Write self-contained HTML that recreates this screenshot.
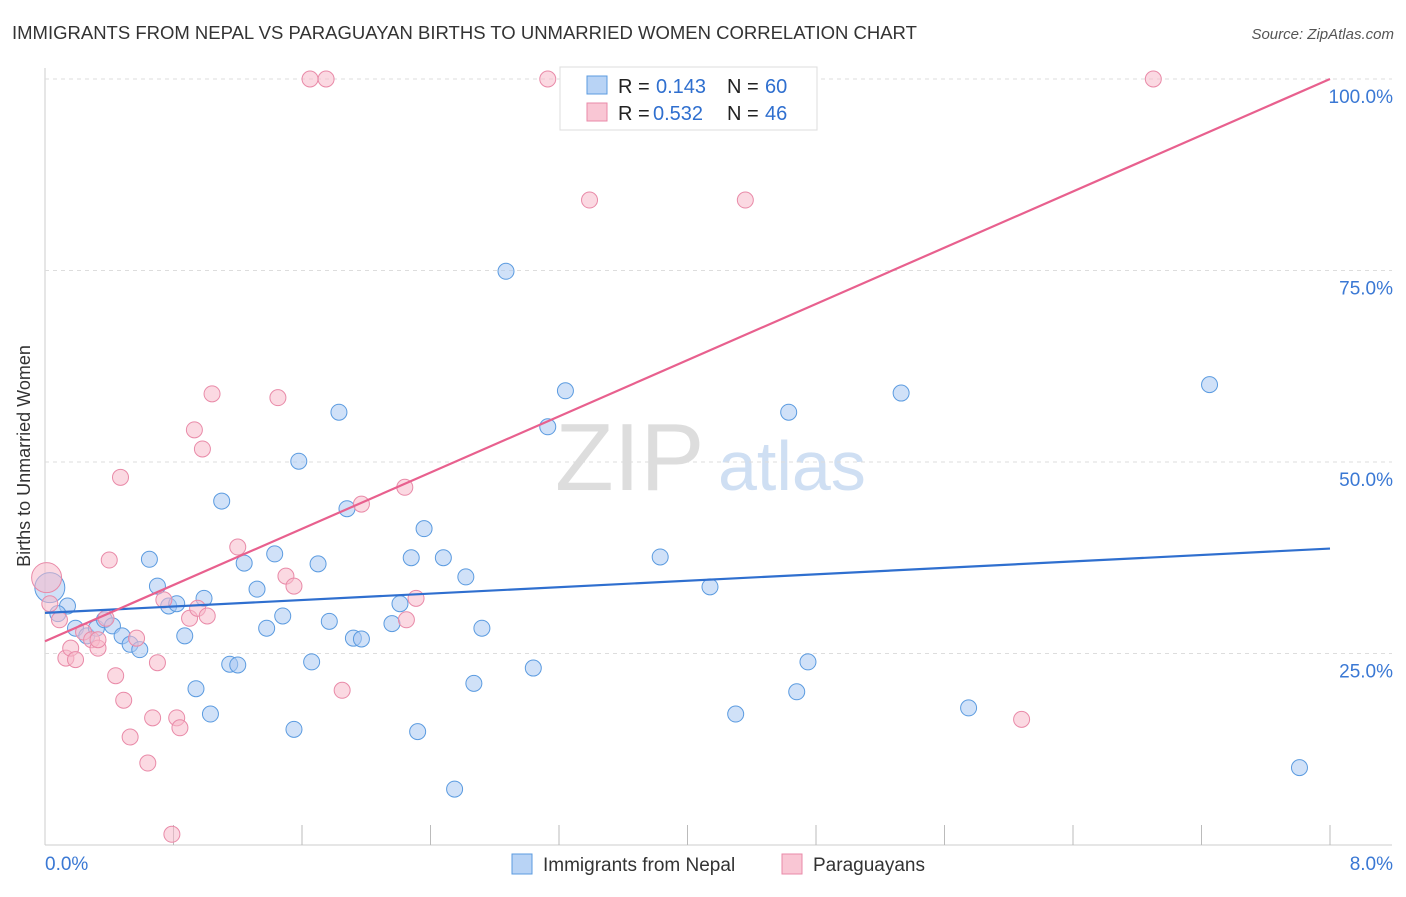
<!DOCTYPE html>
<html><head><meta charset="utf-8"><style>
body{margin:0;background:#fff;font-family:"Liberation Sans",sans-serif;}
svg text{font-family:"Liberation Sans",sans-serif;}
</style></head><body>
<svg id="c" width="1406" height="892" xmlns="http://www.w3.org/2000/svg">
<text x="12" y="39" font-size="18.5" fill="#333">IMMIGRANTS FROM NEPAL VS PARAGUAYAN BIRTHS TO UNMARRIED WOMEN CORRELATION CHART</text>
<text x="1394" y="39" font-size="15" fill="#555" text-anchor="end" font-style="italic">Source: ZipAtlas.com</text>
<text x="30" y="456" font-size="18" fill="#333" text-anchor="middle" transform="rotate(-90 30 456)">Births to Unmarried Women</text>
<text x="555" y="490" font-size="96" fill="#ddd" font-family="Liberation Serif">ZIP</text>
<text x="718" y="490" font-size="70" fill="#cfdff3">atlas</text>
<g id="grid"></g><g id="pts"></g><g id="lines"></g>
<rect x="560" y="67" width="257" height="63" fill="#fff" stroke="#ddd"/>
<rect x="587" y="76" width="20" height="18" fill="#b8d3f5" stroke="#5b9be0"/>
<rect x="587" y="103" width="20" height="18" fill="#f9c6d4" stroke="#e98aa8"/>
<g font-size="20" fill="#222">
<text x="618" y="93">R =</text><text x="656" y="93" fill="#2f6fcf">0.143</text><text x="727" y="93">N =</text><text x="765" y="93" fill="#2f6fcf">60</text></g>
<g font-size="20" fill="#222">
<text x="618" y="120">R =</text><text x="653" y="120" fill="#2f6fcf">0.532</text><text x="727" y="120">N =</text><text x="765" y="120" fill="#2f6fcf">46</text></g>
<rect x="512" y="854" width="20" height="20" fill="#b8d3f5" stroke="#5b9be0"/>
<text x="543" y="871" font-size="19" fill="#333">Immigrants from Nepal</text>
<rect x="782" y="854" width="20" height="20" fill="#f9c6d4" stroke="#e98aa8"/>
<text x="813" y="871" font-size="19" fill="#333">Paraguayans</text>
</svg>
<script>
const blueX=[0.03,0.14,0.08,0.19,0.26,0.32,0.37,0.42,0.48,0.53,0.59,0.65,0.70,0.77,0.82,0.87,0.94,0.99,1.03,1.10,1.15,1.20,1.24,1.32,1.38,1.43,1.48,1.55,1.58,1.66,1.70,1.77,1.83,1.88,1.92,1.97,2.16,2.21,2.28,2.32,2.36,2.48,2.55,2.62,2.67,2.72,2.87,3.04,3.13,3.24,3.83,4.14,4.30,4.63,4.68,4.75,5.33,5.75,7.25,7.81];
const blueY=[33.6,31.2,30.2,28.3,27.3,28.3,29.4,28.6,27.3,26.2,25.5,37.3,33.8,31.2,31.5,27.3,20.4,32.2,17.1,44.9,23.6,23.5,36.8,33.4,28.3,38.0,29.9,15.1,50.1,23.9,36.7,29.2,56.5,43.9,27.0,26.9,28.9,31.5,37.5,14.8,41.3,37.5,7.3,35.0,21.1,28.3,74.9,23.1,54.6,59.3,37.6,33.7,17.1,56.5,20.0,23.9,59.0,17.9,60.1,10.1];
const pinkX=[0.01,0.03,0.09,0.13,0.16,0.19,0.24,0.29,0.33,0.38,0.40,0.44,0.49,0.53,0.57,0.64,0.67,0.70,0.74,0.79,0.82,0.84,0.90,0.93,0.95,0.98,1.01,1.04,1.20,1.45,1.50,1.55,1.65,1.75,1.85,1.97,2.24,2.25,2.31,0.47,3.13,3.39,4.36,6.08,6.90,0.33];
const pinkY=[34.9,31.5,29.4,24.4,25.7,24.2,27.8,26.8,25.7,29.6,37.2,22.1,18.9,14.1,27.0,10.7,16.6,23.8,32.0,1.4,16.6,15.3,29.6,54.2,30.9,51.7,29.9,58.9,38.9,58.4,35.1,33.8,100,100,20.2,44.5,46.7,29.4,32.2,48.0,100,84.2,84.2,16.4,100,26.8];
const yTicks=[25,50,75,100];
const xTickLabels=["0.0%","8.0%"];
const blueTrend=[30.3,38.7];
const pinkTrend=[26.6,100];
const X=v=>45+v/8*1285, Y=v=>845-v/100*766;
const NS="http://www.w3.org/2000/svg";
function mk(p,t,a){const e=document.createElementNS(NS,t);for(const k in a)e.setAttribute(k,a[k]);p.appendChild(e);return e;}
const g=document.getElementById('grid');
let ax=mk(g,'line',{x1:45,y1:68,x2:45,y2:845,stroke:'#ccc'});


let bx=mk(g,'line',{x1:45,y1:845,x2:1392,y2:845,stroke:'#ccc'});


yTicks.forEach(t=>{
 const l=mk(g,'line',{x1:45,y1:Y(t),x2:1392,y2:Y(t),stroke:'#ddd','stroke-dasharray':'4 4'});
 
 
 const tx=mk(g,'text',{x:1393,y:Y(t)+24,'font-size':19,fill:'#3a78d4','text-anchor':'end'});
 tx.textContent=t.toFixed(1)+'%';
 
 
});
for(let i=1;i<=10;i++){const v=i*0.8;
 const l=mk(g,'line',{x1:X(v),y1:825,x2:X(v),y2:845,stroke:'#bbb'});
 
 }
[[0,45,'start'],[1,1393,'end']].forEach(([i,x,a])=>{
 const tx=mk(g,'text',{x:x,y:870,'font-size':19,fill:'#3a78d4','text-anchor':a});
 tx.textContent=xTickLabels[i];
 
 });
const p=document.getElementById('pts');
function dots(xs,ys,fill,stroke,name){xs.forEach((x,i)=>{
 const r=i===0?15:8;
 const c=mk(p,'circle',{cx:X(x),cy:Y(ys[i]),r:r,fill:fill,'fill-opacity':0.55,stroke:stroke,'stroke-width':1});
 
 });}
dots(blueX,blueY,'#a9c9f2','#5b9be0','nepal-point');
dots(pinkX,pinkY,'#f7b9cb','#e98aa8','paraguayan-point');
const L=document.getElementById('lines');
let bl=mk(L,'line',{x1:X(0),y1:Y(blueTrend[0]),x2:X(8),y2:Y(blueTrend[1]),stroke:'#2f6fcf','stroke-width':2.2});


let pl=mk(L,'line',{x1:X(0),y1:Y(pinkTrend[0]),x2:X(8),y2:Y(pinkTrend[1]),stroke:'#e8608e','stroke-width':2.2});


</script>
</body></html>
